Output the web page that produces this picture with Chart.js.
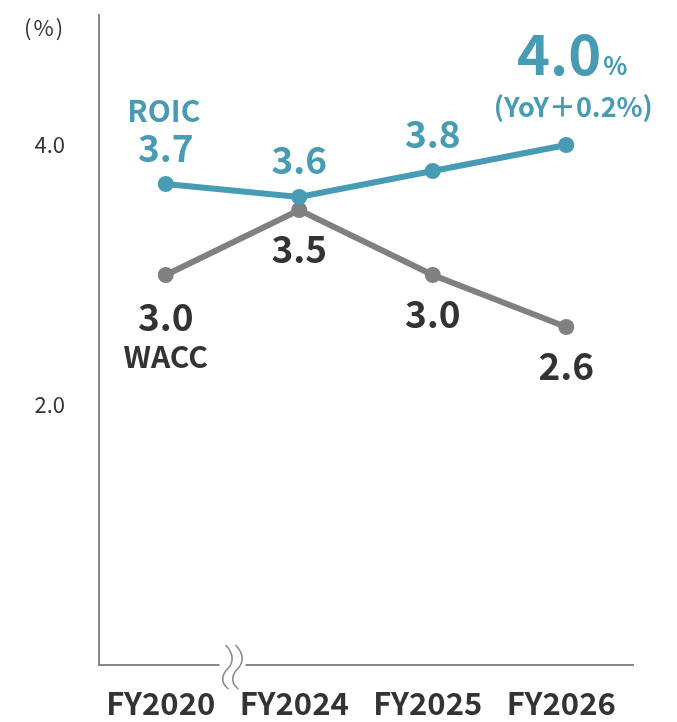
<!DOCTYPE html>
<html><head><meta charset="utf-8">
<script src="https://cdn.jsdelivr.net/npm/chart.js@4"></script>
<style>html,body{margin:0;padding:0;background:#fff}#wrap{width:677px;height:722px;position:relative}</style>
</head><body><div id="wrap"><canvas id="c" width="677" height="722"></canvas></div>
<script>
const categories = ['FY2020','FY2024','FY2025','FY2026'];
const roic = [3.7, 3.6, 3.8, 4.0];
const wacc = [3.0, 3.5, 3.0, 2.6];
const yTickValues = [2, 4];

const TEAL = '#479bb3';
const GRAY = '#808080';
const DARK = '#333333';
const FONT = '"Noto Sans CJK JP", "Noto Sans", sans-serif';

const labelPlugin = {
  id: 'labels',
  afterDraw(chart) {
    const ctx = chart.ctx;
    const xs = chart.scales.x, ys = chart.scales.y;
    ctx.save();
    ctx.textAlign = 'center';
    ctx.textBaseline = 'middle';
    const txt = (t, x, y, size, color, weight) => {
      ctx.font = (weight || 'bold') + ' ' + size + 'px ' + FONT;
      ctx.fillStyle = color;
      ctx.fillText(t, x, y);
    };
    // (%) unit
    ctx.save();
    ctx.font = 'normal 22px ' + FONT;
    ctx.fillStyle = DARK;
    ctx.textAlign = 'left';
    try { ctx.letterSpacing = '2px'; } catch (e) {}
    ctx.fillText('(%)', 24, 28);
    ctx.restore();
    // ROIC labels
    roic.forEach((v, i) => {
      const x = xs.getPixelForValue(i), y = ys.getPixelForValue(v);
      if (i === 0) {
        txt('ROIC', x - 2, y - 73, 30, TEAL);
        txt(v.toFixed(1), x, y - 36, 37, TEAL);
      } else if (i === roic.length - 1) {
        ctx.font = 'bold 56px ' + FONT;
        const w1 = ctx.measureText(v.toFixed(1)).width;
        ctx.font = 'bold 25px ' + FONT;
        const w2 = ctx.measureText('%').width;
        const sx = x + 6 - (w1 + w2 + 2) / 2;
        ctx.textAlign = 'left';
        ctx.textBaseline = 'alphabetic';
        ctx.font = 'bold 56px ' + FONT; ctx.fillStyle = TEAL;
        ctx.fillText(v.toFixed(1), sx, y - 70);
        ctx.font = 'bold 25px ' + FONT;
        ctx.fillText('%', sx + w1 + 2, y - 70);
        ctx.textAlign = 'center';
        ctx.textBaseline = 'middle';
        txt('(YoY＋0.2%)', x + 7, y - 38, 27, TEAL);
      } else {
        txt(v.toFixed(1), x, y - 37, 37, TEAL);
      }
    });
    // WACC labels
    wacc.forEach((v, i) => {
      const x = xs.getPixelForValue(i), y = ys.getPixelForValue(v);
      if (i === 0) {
        txt(v.toFixed(1), x, y + 42, 37, DARK);
        txt('WACC', x, y + 82, 30, DARK);
      } else {
        txt(v.toFixed(1), x, y + 39, 37, DARK);
      }
    });
    // axis break mark
    const ay = chart.chartArea.bottom + 1;
    const bc = (xs.getPixelForValue(0) + xs.getPixelForValue(1)) / 2;
    ctx.fillStyle = '#fff';
    ctx.fillRect(bc - 13, ay - 4, 26, 8);
    ctx.strokeStyle = '#888';
    ctx.lineWidth = 1.6;
    [-5, 5].forEach(dx => {
      const cx = bc + dx;
      ctx.beginPath();
      ctx.moveTo(cx - 2, ay - 21);
      ctx.bezierCurveTo(cx + 7, ay - 12, cx + 6, ay - 3, cx, ay + 3);
      ctx.bezierCurveTo(cx - 7, ay + 10, cx - 6, ay + 18, cx + 1, ay + 23);
      ctx.stroke();
    });
    ctx.restore();
  }
};

new Chart(document.getElementById('c'), {
  type: 'line',
  data: {
    labels: categories,
    datasets: [
      { label: 'ROIC', data: roic, borderColor: TEAL, backgroundColor: TEAL, borderWidth: 6,
        pointRadius: 8, pointHoverRadius: 8, pointBackgroundColor: TEAL, pointBorderWidth: 0, order: 0 },
      { label: 'WACC', data: wacc, borderColor: GRAY, backgroundColor: GRAY, borderWidth: 6,
        pointRadius: 8, pointHoverRadius: 8, pointBackgroundColor: GRAY, pointBorderWidth: 0, order: 1 }
    ]
  },
  options: {
    responsive: false,
    animation: false,
    events: [],
    layout: { padding: { top: 15, right: 44, left: 0, bottom: 0 } },
    plugins: { legend: { display: false }, tooltip: { enabled: false } },
    scales: {
      x: {
        offset: true,
        grid: { display: false, drawTicks: false },
        border: { color: '#888', width: 2 },
        ticks: { color: DARK, font: { family: FONT, size: 31, weight: 'bold' }, padding: 20, maxRotation: 0, labelOffset: -5 },
        afterFit(s) { s.height = 57; s.paddingLeft = 0; s.paddingRight = 0; }
      },
      y: {
        min: 0, max: 5,
        grid: { display: false, drawTicks: false },
        border: { color: '#888', width: 2 },
        afterBuildTicks(s) { s.ticks = yTickValues.map(v => ({ value: v })); },
        ticks: { color: DARK, font: { family: FONT, size: 22 }, padding: 34,
          callback: v => Number(v).toFixed(1) },
        afterFit(s) { s.width = 99; s.paddingTop = 0; s.paddingBottom = 0; }
      }
    }
  },
  plugins: [labelPlugin]
});
</script></body></html>
